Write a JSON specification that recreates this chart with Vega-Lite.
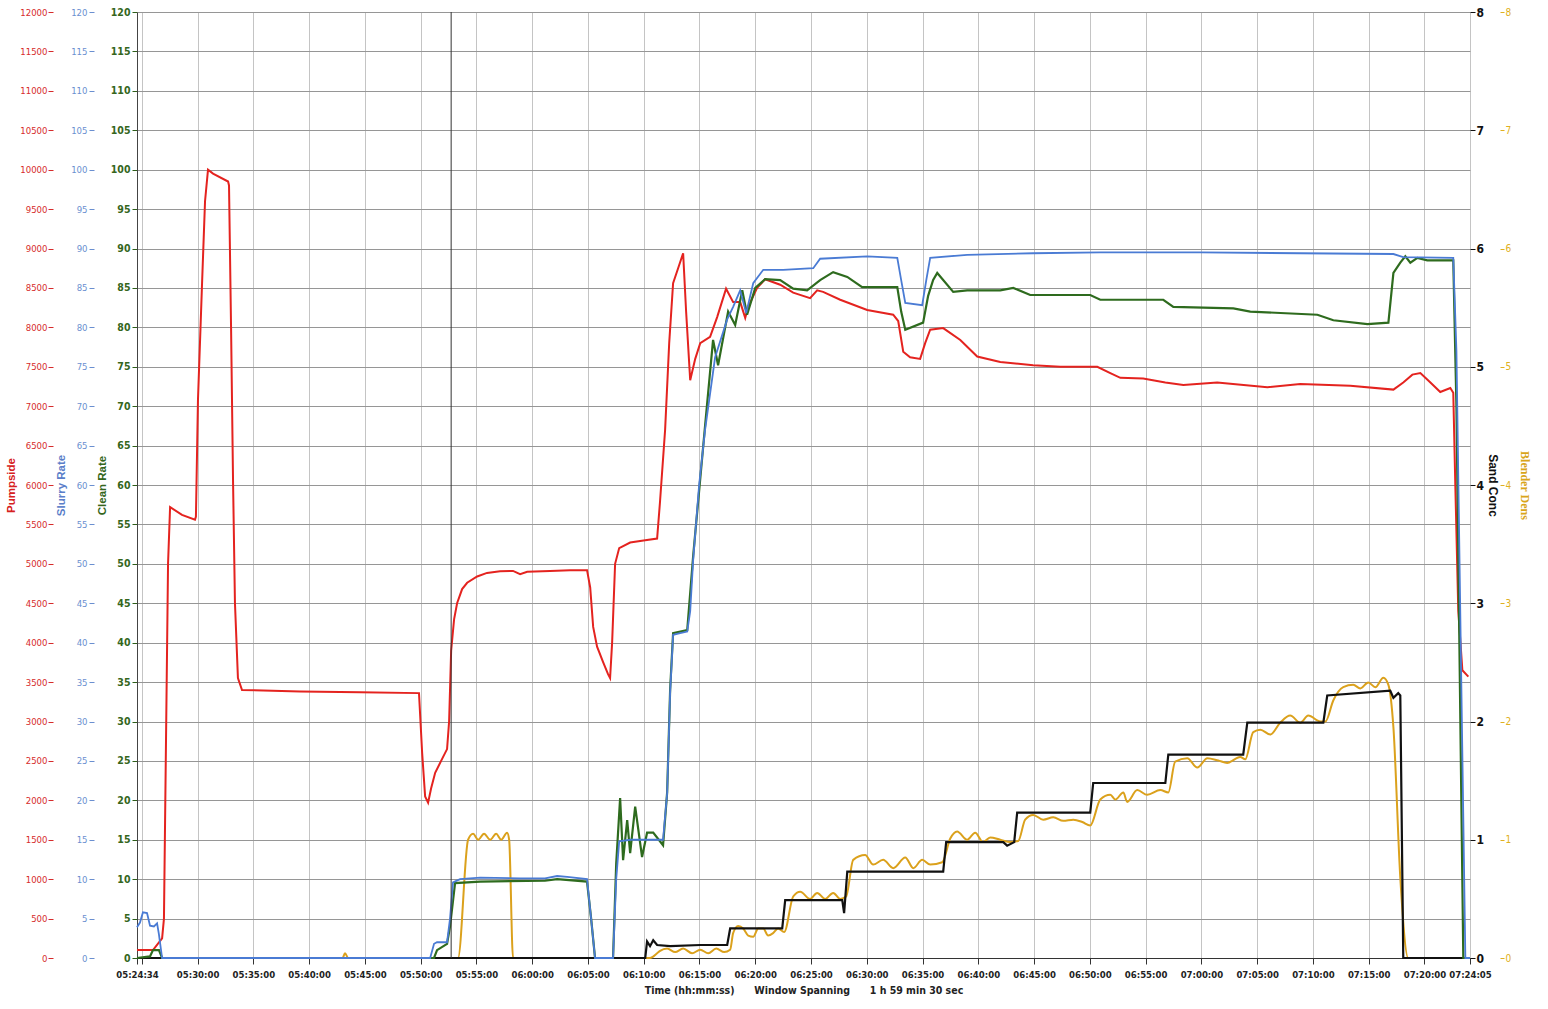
{
"$schema": "https://vega.github.io/schema/vega-lite/v6.json",
"width": 1333,
"height": 946,
"autosize": {"type": "none"},
"padding": {"left": 137, "top": 12, "right": 78, "bottom": 51},
"background": "white",
"config": {
  "view": {"stroke": null},
  "font": "Liberation Sans Narrow, DejaVu Sans Condensed, sans-serif",
  "axis": {"labelFont": "Liberation Sans Narrow, DejaVu Sans Condensed, sans-serif", "titleFont": "Liberation Sans, DejaVu Sans, sans-serif"}
},
"data": {
  "format": {"parse": {"t": "date:'%H:%M:%S'"}},
  "values": [
{"s":"P","t":"05:24:34","v":100},{"s":"P","t":"05:26:00","v":100},{"s":"P","t":"05:26:49","v":250},{"s":"P","t":"05:26:59","v":500},{"s":"P","t":"05:27:21","v":5000},{"s":"P","t":"05:27:32","v":5720},{"s":"P","t":"05:28:36","v":5620},{"s":"P","t":"05:29:46","v":5560},{"s":"P","t":"05:29:51","v":5600},{"s":"P","t":"05:30:02","v":7080},{"s":"P","t":"05:30:24","v":8560},{"s":"P","t":"05:30:40","v":9600},{"s":"P","t":"05:30:56","v":10000},{"s":"P","t":"05:31:23","v":9950},{"s":"P","t":"05:32:44","v":9850},{"s":"P","t":"05:32:49","v":9800},{"s":"P","t":"05:33:00","v":8000},{"s":"P","t":"05:33:11","v":6000},{"s":"P","t":"05:33:21","v":4500},{"s":"P","t":"05:33:37","v":3550},{"s":"P","t":"05:33:59","v":3400},{"s":"P","t":"05:39:11","v":3380},{"s":"P","t":"05:44:34","v":3370},{"s":"P","t":"05:49:51","v":3360},{"s":"P","t":"05:50:08","v":2600},{"s":"P","t":"05:50:24","v":2050},{"s":"P","t":"05:50:40","v":1970},{"s":"P","t":"05:50:56","v":2150},{"s":"P","t":"05:51:18","v":2350},{"s":"P","t":"05:51:50","v":2500},{"s":"P","t":"05:52:22","v":2650},{"s":"P","t":"05:52:33","v":3000},{"s":"P","t":"05:52:44","v":3900},{"s":"P","t":"05:53:00","v":4300},{"s":"P","t":"05:53:16","v":4500},{"s":"P","t":"05:53:43","v":4680},{"s":"P","t":"05:54:10","v":4760},{"s":"P","t":"05:55:04","v":4840},{"s":"P","t":"05:55:57","v":4885},{"s":"P","t":"05:57:07","v":4905},{"s":"P","t":"05:58:17","v":4910},{"s":"P","t":"05:58:55","v":4870},{"s":"P","t":"05:59:33","v":4900},{"s":"P","t":"06:01:36","v":4910},{"s":"P","t":"06:03:24","v":4920},{"s":"P","t":"06:04:55","v":4920},{"s":"P","t":"06:05:12","v":4700},{"s":"P","t":"06:05:28","v":4200},{"s":"P","t":"06:05:49","v":3950},{"s":"P","t":"06:06:22","v":3750},{"s":"P","t":"06:06:48","v":3600},{"s":"P","t":"06:06:59","v":3550},{"s":"P","t":"06:07:10","v":4000},{"s":"P","t":"06:07:26","v":5000},{"s":"P","t":"06:07:48","v":5200},{"s":"P","t":"06:08:47","v":5270},{"s":"P","t":"06:10:08","v":5300},{"s":"P","t":"06:11:12","v":5320},{"s":"P","t":"06:11:28","v":5800},{"s":"P","t":"06:11:55","v":6700},{"s":"P","t":"06:12:17","v":7800},{"s":"P","t":"06:12:38","v":8560},{"s":"P","t":"06:13:05","v":8750},{"s":"P","t":"06:13:32","v":8940},{"s":"P","t":"06:13:48","v":8200},{"s":"P","t":"06:14:10","v":7330},{"s":"P","t":"06:14:37","v":7600},{"s":"P","t":"06:15:04","v":7800},{"s":"P","t":"06:15:57","v":7880},{"s":"P","t":"06:16:35","v":8130},{"s":"P","t":"06:17:23","v":8490},{"s":"P","t":"06:18:01","v":8320},{"s":"P","t":"06:18:39","v":8320},{"s":"P","t":"06:19:06","v":8120},{"s":"P","t":"06:19:22","v":8260},{"s":"P","t":"06:20:10","v":8500},{"s":"P","t":"06:20:53","v":8610},{"s":"P","t":"06:22:14","v":8540},{"s":"P","t":"06:23:24","v":8440},{"s":"P","t":"06:24:55","v":8370},{"s":"P","t":"06:25:33","v":8470},{"s":"P","t":"06:26:05","v":8450},{"s":"P","t":"06:27:37","v":8350},{"s":"P","t":"06:30:02","v":8220},{"s":"P","t":"06:32:22","v":8160},{"s":"P","t":"06:32:49","v":8080},{"s":"P","t":"06:33:16","v":7690},{"s":"P","t":"06:33:53","v":7620},{"s":"P","t":"06:34:47","v":7600},{"s":"P","t":"06:35:14","v":7800},{"s":"P","t":"06:35:41","v":7970},{"s":"P","t":"06:36:51","v":7990},{"s":"P","t":"06:38:23","v":7840},{"s":"P","t":"06:39:54","v":7630},{"s":"P","t":"06:41:58","v":7560},{"s":"P","t":"06:44:55","v":7520},{"s":"P","t":"06:47:21","v":7500},{"s":"P","t":"06:50:40","v":7500},{"s":"P","t":"06:51:50","v":7420},{"s":"P","t":"06:52:44","v":7360},{"s":"P","t":"06:54:47","v":7350},{"s":"P","t":"06:56:46","v":7300},{"s":"P","t":"06:58:23","v":7270},{"s":"P","t":"07:01:25","v":7300},{"s":"P","t":"07:05:55","v":7240},{"s":"P","t":"07:08:52","v":7280},{"s":"P","t":"07:13:21","v":7260},{"s":"P","t":"07:17:13","v":7210},{"s":"P","t":"07:18:06","v":7300},{"s":"P","t":"07:18:55","v":7400},{"s":"P","t":"07:19:38","v":7420},{"s":"P","t":"07:20:32","v":7300},{"s":"P","t":"07:21:25","v":7180},{"s":"P","t":"07:22:19","v":7230},{"s":"P","t":"07:22:35","v":7170},{"s":"P","t":"07:22:46","v":6000},{"s":"P","t":"07:23:02","v":4400},{"s":"P","t":"07:23:24","v":3650},{"s":"P","t":"07:23:56","v":3570},
{"s":"S","t":"05:24:34","v":3.9},{"s":"S","t":"05:24:50","v":4.5},{"s":"S","t":"05:25:06","v":5.8},{"s":"S","t":"05:25:28","v":5.7},{"s":"S","t":"05:25:44","v":4.1},{"s":"S","t":"05:26:05","v":4.0},{"s":"S","t":"05:26:22","v":4.4},{"s":"S","t":"05:26:32","v":3.0},{"s":"S","t":"05:26:49","v":0},{"s":"S","t":"05:50:51","v":0},{"s":"S","t":"05:51:12","v":1.8},{"s":"S","t":"05:51:28","v":2.0},{"s":"S","t":"05:52:22","v":2.0},{"s":"S","t":"05:52:38","v":5.0},{"s":"S","t":"05:52:54","v":9.6},{"s":"S","t":"05:53:32","v":10.0},{"s":"S","t":"05:55:20","v":10.2},{"s":"S","t":"05:58:55","v":10.1},{"s":"S","t":"06:01:09","v":10.1},{"s":"S","t":"06:02:14","v":10.4},{"s":"S","t":"06:03:08","v":10.3},{"s":"S","t":"06:04:55","v":10.0},{"s":"S","t":"06:05:17","v":5.0},{"s":"S","t":"06:05:38","v":0},{"s":"S","t":"06:07:15","v":0},{"s":"S","t":"06:07:32","v":10},{"s":"S","t":"06:07:48","v":14.8},{"s":"S","t":"06:08:47","v":15.0},{"s":"S","t":"06:10:34","v":15.0},{"s":"S","t":"06:11:44","v":15.0},{"s":"S","t":"06:12:06","v":20.9},{"s":"S","t":"06:12:22","v":33.6},{"s":"S","t":"06:12:38","v":41},{"s":"S","t":"06:13:16","v":41.2},{"s":"S","t":"06:13:54","v":41.4},{"s":"S","t":"06:14:10","v":44},{"s":"S","t":"06:14:26","v":50.5},{"s":"S","t":"06:14:58","v":60},{"s":"S","t":"06:15:30","v":67},{"s":"S","t":"06:16:24","v":76.2},{"s":"S","t":"06:17:29","v":81},{"s":"S","t":"06:18:01","v":82.6},{"s":"S","t":"06:18:39","v":84.7},{"s":"S","t":"06:19:11","v":81.8},{"s":"S","t":"06:19:49","v":85.6},{"s":"S","t":"06:20:43","v":87.3},{"s":"S","t":"06:22:30","v":87.3},{"s":"S","t":"06:25:12","v":87.5},{"s":"S","t":"06:25:49","v":88.7},{"s":"S","t":"06:30:02","v":89.0},{"s":"S","t":"06:32:44","v":88.8},{"s":"S","t":"06:33:05","v":86},{"s":"S","t":"06:33:27","v":83.1},{"s":"S","t":"06:34:58","v":82.8},{"s":"S","t":"06:35:20","v":86},{"s":"S","t":"06:35:41","v":88.8},{"s":"S","t":"06:39:00","v":89.2},{"s":"S","t":"06:44:55","v":89.4},{"s":"S","t":"06:50:56","v":89.5},{"s":"S","t":"06:59:54","v":89.5},{"s":"S","t":"07:08:52","v":89.4},{"s":"S","t":"07:17:13","v":89.3},{"s":"S","t":"07:18:06","v":88.9},{"s":"S","t":"07:22:35","v":88.8},{"s":"S","t":"07:22:52","v":77},{"s":"S","t":"07:23:40","v":0},{"s":"S","t":"07:24:05","v":0},
{"s":"C","t":"05:24:34","v":0},{"s":"C","t":"05:25:44","v":0.2},{"s":"C","t":"05:26:00","v":1.0},{"s":"C","t":"05:26:32","v":1.0},{"s":"C","t":"05:26:49","v":0},{"s":"C","t":"05:51:12","v":0},{"s":"C","t":"05:51:28","v":1.0},{"s":"C","t":"05:52:22","v":1.8},{"s":"C","t":"05:52:38","v":4.0},{"s":"C","t":"05:53:05","v":9.5},{"s":"C","t":"05:55:20","v":9.7},{"s":"C","t":"06:01:09","v":9.8},{"s":"C","t":"06:02:14","v":10.0},{"s":"C","t":"06:04:55","v":9.7},{"s":"C","t":"06:05:17","v":5.0},{"s":"C","t":"06:05:38","v":0},{"s":"C","t":"06:07:15","v":0},{"s":"C","t":"06:07:32","v":12},{"s":"C","t":"06:07:53","v":20.3},{"s":"C","t":"06:08:09","v":12.4},{"s":"C","t":"06:08:31","v":17.5},{"s":"C","t":"06:08:47","v":13.3},{"s":"C","t":"06:09:14","v":19.2},{"s":"C","t":"06:09:51","v":12.8},{"s":"C","t":"06:10:18","v":15.9},{"s":"C","t":"06:10:51","v":15.9},{"s":"C","t":"06:11:44","v":14.3},{"s":"C","t":"06:12:06","v":21},{"s":"C","t":"06:12:22","v":34},{"s":"C","t":"06:12:38","v":41.2},{"s":"C","t":"06:13:54","v":41.6},{"s":"C","t":"06:14:26","v":51},{"s":"C","t":"06:15:30","v":67.5},{"s":"C","t":"06:16:13","v":78.4},{"s":"C","t":"06:16:40","v":75.2},{"s":"C","t":"06:17:34","v":82},{"s":"C","t":"06:18:12","v":80.3},{"s":"C","t":"06:18:50","v":84.7},{"s":"C","t":"06:19:16","v":81.6},{"s":"C","t":"06:20:00","v":85},{"s":"C","t":"06:20:53","v":86.1},{"s":"C","t":"06:22:14","v":86},{"s":"C","t":"06:23:24","v":84.9},{"s":"C","t":"06:24:39","v":84.7},{"s":"C","t":"06:25:49","v":86},{"s":"C","t":"06:26:59","v":87},{"s":"C","t":"06:28:15","v":86.4},{"s":"C","t":"06:29:35","v":85.1},{"s":"C","t":"06:32:44","v":85.1},{"s":"C","t":"06:33:05","v":82},{"s":"C","t":"06:33:27","v":79.7},{"s":"C","t":"06:35:03","v":80.6},{"s":"C","t":"06:35:30","v":84},{"s":"C","t":"06:35:57","v":86},{"s":"C","t":"06:36:19","v":86.9},{"s":"C","t":"06:37:45","v":84.5},{"s":"C","t":"06:39:00","v":84.7},{"s":"C","t":"06:41:58","v":84.7},{"s":"C","t":"06:43:08","v":85},{"s":"C","t":"06:44:39","v":84.1},{"s":"C","t":"06:50:02","v":84.1},{"s":"C","t":"06:50:56","v":83.5},{"s":"C","t":"06:56:35","v":83.5},{"s":"C","t":"06:57:29","v":82.6},{"s":"C","t":"07:02:52","v":82.4},{"s":"C","t":"07:04:23","v":82},{"s":"C","t":"07:10:24","v":81.6},{"s":"C","t":"07:11:50","v":80.9},{"s":"C","t":"07:14:53","v":80.4},{"s":"C","t":"07:16:46","v":80.6},{"s":"C","t":"07:17:13","v":86.9},{"s":"C","t":"07:17:50","v":88.2},{"s":"C","t":"07:18:17","v":89},{"s":"C","t":"07:18:44","v":88.2},{"s":"C","t":"07:19:22","v":88.8},{"s":"C","t":"07:20:15","v":88.5},{"s":"C","t":"07:22:35","v":88.5},{"s":"C","t":"07:22:52","v":70},{"s":"C","t":"07:23:29","v":0},{"s":"C","t":"07:24:05","v":0},
{"s":"D","t":"05:24:34","v":0},{"s":"D","t":"06:10:08","v":0},{"s":"D","t":"06:10:18","v":0.14},{"s":"D","t":"06:10:34","v":0.10},{"s":"D","t":"06:10:51","v":0.15},{"s":"D","t":"06:11:12","v":0.11},{"s":"D","t":"06:12:22","v":0.10},{"s":"D","t":"06:15:04","v":0.11},{"s":"D","t":"06:17:29","v":0.11},{"s":"D","t":"06:17:45","v":0.25},{"s":"D","t":"06:22:25","v":0.25},{"s":"D","t":"06:22:41","v":0.49},{"s":"D","t":"06:27:48","v":0.49},{"s":"D","t":"06:27:58","v":0.38},{"s":"D","t":"06:28:15","v":0.73},{"s":"D","t":"06:36:51","v":0.73},{"s":"D","t":"06:37:07","v":0.98},{"s":"D","t":"06:42:14","v":0.98},{"s":"D","t":"06:42:35","v":0.95},{"s":"D","t":"06:43:13","v":0.98},{"s":"D","t":"06:43:29","v":1.23},{"s":"D","t":"06:50:02","v":1.23},{"s":"D","t":"06:50:18","v":1.48},{"s":"D","t":"06:56:46","v":1.48},{"s":"D","t":"06:57:02","v":1.72},{"s":"D","t":"07:03:45","v":1.72},{"s":"D","t":"07:04:07","v":1.99},{"s":"D","t":"07:10:56","v":1.99},{"s":"D","t":"07:11:17","v":2.22},{"s":"D","t":"07:16:56","v":2.26},{"s":"D","t":"07:17:13","v":2.20},{"s":"D","t":"07:17:39","v":2.24},{"s":"D","t":"07:17:50","v":2.22},{"s":"D","t":"07:18:06","v":0},{"s":"D","t":"07:24:05","v":0},
{"s":"B","t":"05:24:34","v":0},{"s":"B","t":"05:43:00","v":0},{"s":"B","t":"05:43:13","v":0.04},{"s":"B","t":"05:43:30","v":0},{"s":"B","t":"05:53:21","v":0},{"s":"B","t":"05:54:15","v":1.0},{"s":"B","t":"05:54:42","v":1.05},{"s":"B","t":"05:55:09","v":1.0},{"s":"B","t":"05:55:41","v":1.05},{"s":"B","t":"05:56:14","v":1.0},{"s":"B","t":"05:56:46","v":1.05},{"s":"B","t":"05:57:13","v":1.0},{"s":"B","t":"05:57:45","v":1.06},{"s":"B","t":"05:57:56","v":1.0},{"s":"B","t":"05:58:17","v":0},{"s":"B","t":"06:10:34","v":0},{"s":"B","t":"06:11:12","v":0.04},{"s":"B","t":"06:11:28","v":0.06},{"s":"B","t":"06:12:06","v":0.08},{"s":"B","t":"06:12:49","v":0.05},{"s":"B","t":"06:13:32","v":0.08},{"s":"B","t":"06:14:20","v":0.04},{"s":"B","t":"06:15:04","v":0.07},{"s":"B","t":"06:15:47","v":0.04},{"s":"B","t":"06:16:30","v":0.08},{"s":"B","t":"06:17:13","v":0.05},{"s":"B","t":"06:17:45","v":0.07},{"s":"B","t":"06:18:01","v":0.21},{"s":"B","t":"06:18:28","v":0.27},{"s":"B","t":"06:18:55","v":0.25},{"s":"B","t":"06:19:22","v":0.19},{"s":"B","t":"06:19:49","v":0.18},{"s":"B","t":"06:20:16","v":0.25},{"s":"B","t":"06:20:43","v":0.25},{"s":"B","t":"06:21:09","v":0.19},{"s":"B","t":"06:21:36","v":0.21},{"s":"B","t":"06:22:03","v":0.25},{"s":"B","t":"06:22:36","v":0.22},{"s":"B","t":"06:23:24","v":0.52},{"s":"B","t":"06:24:02","v":0.56},{"s":"B","t":"06:24:55","v":0.50},{"s":"B","t":"06:25:33","v":0.55},{"s":"B","t":"06:26:16","v":0.50},{"s":"B","t":"06:26:59","v":0.55},{"s":"B","t":"06:27:37","v":0.50},{"s":"B","t":"06:28:09","v":0.52},{"s":"B","t":"06:28:47","v":0.83},{"s":"B","t":"06:29:51","v":0.87},{"s":"B","t":"06:30:34","v":0.79},{"s":"B","t":"06:31:28","v":0.83},{"s":"B","t":"06:32:22","v":0.76},{"s":"B","t":"06:33:27","v":0.85},{"s":"B","t":"06:34:10","v":0.76},{"s":"B","t":"06:34:58","v":0.83},{"s":"B","t":"06:35:41","v":0.79},{"s":"B","t":"06:36:46","v":0.81},{"s":"B","t":"06:37:29","v":1.01},{"s":"B","t":"06:38:06","v":1.07},{"s":"B","t":"06:39:00","v":1.00},{"s":"B","t":"06:39:43","v":1.06},{"s":"B","t":"06:40:26","v":0.98},{"s":"B","t":"06:41:04","v":1.02},{"s":"B","t":"06:41:58","v":1.00},{"s":"B","t":"06:42:52","v":0.98},{"s":"B","t":"06:43:35","v":0.99},{"s":"B","t":"06:44:12","v":1.17},{"s":"B","t":"06:44:55","v":1.21},{"s":"B","t":"06:45:49","v":1.17},{"s":"B","t":"06:46:43","v":1.19},{"s":"B","t":"06:47:37","v":1.16},{"s":"B","t":"06:48:31","v":1.17},{"s":"B","t":"06:49:19","v":1.15},{"s":"B","t":"06:50:02","v":1.12},{"s":"B","t":"06:50:56","v":1.34},{"s":"B","t":"06:51:50","v":1.38},{"s":"B","t":"06:52:17","v":1.34},{"s":"B","t":"06:53:00","v":1.40},{"s":"B","t":"06:53:21","v":1.32},{"s":"B","t":"06:54:15","v":1.42},{"s":"B","t":"06:55:09","v":1.38},{"s":"B","t":"06:56:19","v":1.42},{"s":"B","t":"06:57:02","v":1.40},{"s":"B","t":"06:57:39","v":1.66},{"s":"B","t":"06:58:44","v":1.69},{"s":"B","t":"06:59:38","v":1.61},{"s":"B","t":"07:00:32","v":1.69},{"s":"B","t":"07:01:31","v":1.67},{"s":"B","t":"07:02:19","v":1.65},{"s":"B","t":"07:03:29","v":1.70},{"s":"B","t":"07:03:56","v":1.68},{"s":"B","t":"07:04:39","v":1.91},{"s":"B","t":"07:05:17","v":1.93},{"s":"B","t":"07:06:11","v":1.89},{"s":"B","t":"07:07:04","v":1.99},{"s":"B","t":"07:07:58","v":2.05},{"s":"B","t":"07:08:52","v":1.99},{"s":"B","t":"07:09:35","v":2.05},{"s":"B","t":"07:10:40","v":2.00},{"s":"B","t":"07:11:07","v":2.00},{"s":"B","t":"07:11:50","v":2.18},{"s":"B","t":"07:12:43","v":2.29},{"s":"B","t":"07:13:37","v":2.31},{"s":"B","t":"07:14:15","v":2.28},{"s":"B","t":"07:14:58","v":2.33},{"s":"B","t":"07:15:36","v":2.29},{"s":"B","t":"07:16:19","v":2.37},{"s":"B","t":"07:16:46","v":2.31},{"s":"B","t":"07:17:13","v":1.95},{"s":"B","t":"07:17:50","v":0.68},{"s":"B","t":"07:18:33","v":0},{"s":"B","t":"07:24:05","v":0},
{"s":"X","t":"05:52:44","v":0}
  ]
},
"encoding": {
  "x": {
    "field": "t", "type": "temporal",
    "scale": {"domain": [{"year":1900,"month":1,"date":1,"hours":5,"minutes":24,"seconds":34},{"year":1900,"month":1,"date":1,"hours":7,"minutes":24,"seconds":5}], "nice": false},
    "axis": {
      "values": [
        {"year":1900,"month":1,"date":1,"hours":5,"minutes":24,"seconds":34},
        {"year":1900,"month":1,"date":1,"hours":5,"minutes":25},
        {"year":1900,"month":1,"date":1,"hours":5,"minutes":30},
        {"year":1900,"month":1,"date":1,"hours":5,"minutes":35},
        {"year":1900,"month":1,"date":1,"hours":5,"minutes":40},
        {"year":1900,"month":1,"date":1,"hours":5,"minutes":45},
        {"year":1900,"month":1,"date":1,"hours":5,"minutes":50},
        {"year":1900,"month":1,"date":1,"hours":5,"minutes":55},
        {"year":1900,"month":1,"date":1,"hours":6,"minutes":0},
        {"year":1900,"month":1,"date":1,"hours":6,"minutes":5},
        {"year":1900,"month":1,"date":1,"hours":6,"minutes":10},
        {"year":1900,"month":1,"date":1,"hours":6,"minutes":15},
        {"year":1900,"month":1,"date":1,"hours":6,"minutes":20},
        {"year":1900,"month":1,"date":1,"hours":6,"minutes":25},
        {"year":1900,"month":1,"date":1,"hours":6,"minutes":30},
        {"year":1900,"month":1,"date":1,"hours":6,"minutes":35},
        {"year":1900,"month":1,"date":1,"hours":6,"minutes":40},
        {"year":1900,"month":1,"date":1,"hours":6,"minutes":45},
        {"year":1900,"month":1,"date":1,"hours":6,"minutes":50},
        {"year":1900,"month":1,"date":1,"hours":6,"minutes":55},
        {"year":1900,"month":1,"date":1,"hours":7,"minutes":0},
        {"year":1900,"month":1,"date":1,"hours":7,"minutes":5},
        {"year":1900,"month":1,"date":1,"hours":7,"minutes":10},
        {"year":1900,"month":1,"date":1,"hours":7,"minutes":15},
        {"year":1900,"month":1,"date":1,"hours":7,"minutes":20},
        {"year":1900,"month":1,"date":1,"hours":7,"minutes":24,"seconds":5}
      ],
      "format": "%H:%M:%S",
      "labelExpr": "datum.label == '05:25:00' ? '' : datum.label",
      "labelFlush": false,
      "labelOverlap": false,
      "labelFontSize": 9.5,
      "labelFontWeight": "bold",
      "labelColor": "#222222",
      "labelPadding": 5,
      "tickSize": 6,
      "tickColor": "#333333",
      "domainColor": "#333333",
      "grid": true,
      "gridColor": "#c4c4c4",
      "gridWidth": 1,
      "title": "Time (hh:mm:ss)\u00a0\u00a0\u00a0\u00a0\u00a0\u00a0Window Spanning\u00a0\u00a0\u00a0\u00a0\u00a0\u00a01 h 59 min 30 sec",
      "titleFont": "Liberation Sans Narrow, DejaVu Sans Condensed, sans-serif",
      "titleFontSize": 10.5,
      "titleFontWeight": "bold",
      "titleColor": "#222222",
      "titlePadding": 7
    }
  }
},
"layer": [
  {
    "transform": [{"filter": "datum.s == 'P'"}],
    "mark": {"type": "line", "color": "#e4231f", "strokeWidth": 2},
    "encoding": {
      "y": {"field": "v", "type": "quantitative",
        "scale": {"domain": [0, 12000], "nice": false, "zero": true},
        "axis": {"orient": "left", "offset": 84, "values": [0,500,1000,1500,2000,2500,3000,3500,4000,4500,5000,5500,6000,6500,7000,7500,8000,8500,9000,9500,10000,10500,11000,11500,12000],
          "format": "d", "grid": false, "domain": false, "tickSize": 5, "tickColor": "#d62b2b", "labelPadding": 1,
          "labelColor": "#d62b2b", "labelFontSize": 9.5, "title": "Pumpside", "titleColor": "#d62020", "titleFontSize": 11.5, "titleFontWeight": "bold", "titlePadding": 3}}
    }
  },
  {
    "transform": [{"filter": "datum.s == 'B'"}],
    "mark": {"type": "line", "color": "#dba11c", "strokeWidth": 2, "interpolate": "monotone"},
    "encoding": {
      "y": {"field": "v", "type": "quantitative",
        "scale": {"domain": [0, 8], "nice": false},
        "axis": {"orient": "right", "offset": 30, "values": [0,1,2,3,4,5,6,7,8], "format": "d",
          "grid": false, "domain": false, "tickSize": 4, "tickColor": "#e0b020", "labelPadding": 1,
          "labelColor": "#e0b020", "labelFontSize": 10, "title": "Blender Dens", "titleColor": "#d9a51a", "titleFont": "Liberation Serif, DejaVu Serif, serif", "titleFontSize": 12, "titleFontWeight": "bold", "titlePadding": 7}}
    }
  },
  {
    "transform": [{"filter": "datum.s == 'D'"}],
    "mark": {"type": "line", "color": "#111111", "strokeWidth": 2.2},
    "encoding": {
      "y": {"field": "v", "type": "quantitative",
        "scale": {"domain": [0, 8], "nice": false},
        "axis": {"orient": "right", "offset": 0, "values": [0,1,2,3,4,5,6,7,8], "format": "d",
          "grid": false, "domain": false, "tickSize": 5, "tickColor": "#111111", "labelPadding": 1,
          "labelColor": "#111111", "labelFontSize": 12, "labelFontWeight": "bold", "title": "Sand Conc", "titleColor": "#111111", "titleFontSize": 12, "titleFontWeight": "bold", "titlePadding": 2}}
    }
  },
  {
    "transform": [{"filter": "datum.s == 'C'"}],
    "mark": {"type": "line", "color": "#2e6b1e", "strokeWidth": 2.2},
    "encoding": {
      "y": {"field": "v", "type": "quantitative",
        "scale": {"domain": [0, 120], "nice": false},
        "axis": {"orient": "left", "offset": 0, "values": [0,5,10,15,20,25,30,35,40,45,50,55,60,65,70,75,80,85,90,95,100,105,110,115,120],
          "grid": true, "gridColor": "#969696", "gridWidth": 1, "domain": true, "domainColor": "#444444", "tickSize": 5, "tickColor": "#2e5e1a", "labelPadding": 2,
          "labelColor": "#35661c", "labelFontSize": 10.5, "labelFontWeight": "bold", "title": "Clean Rate", "titleColor": "#35661c", "titleFontSize": 11.5, "titleFontWeight": "bold", "titlePadding": 3}}
    }
  },
  {
    "transform": [{"filter": "datum.s == 'S'"}],
    "mark": {"type": "line", "color": "#4a7bd4", "strokeWidth": 1.8},
    "encoding": {
      "y": {"field": "v", "type": "quantitative",
        "scale": {"domain": [0, 120], "nice": false},
        "axis": {"orient": "left", "offset": 43, "values": [0,5,10,15,20,25,30,35,40,45,50,55,60,65,70,75,80,85,90,95,100,105,110,115,120],
          "grid": false, "domain": false, "tickSize": 5, "tickColor": "#6a8fd0", "labelPadding": 2,
          "labelColor": "#6a8fd0", "labelFontSize": 9.5, "title": "Slurry Rate", "titleColor": "#5b7ec9", "titleFontSize": 11.5, "titleFontWeight": "bold", "titlePadding": 4}}
    }
  },
  {
    "transform": [{"filter": "datum.s == 'X'"}],
    "mark": {"type": "rule", "color": "#333333", "strokeWidth": 1},
    "encoding": {}
  }
],
"resolve": {"scale": {"y": "independent"}, "axis": {"y": "independent"}}
}
